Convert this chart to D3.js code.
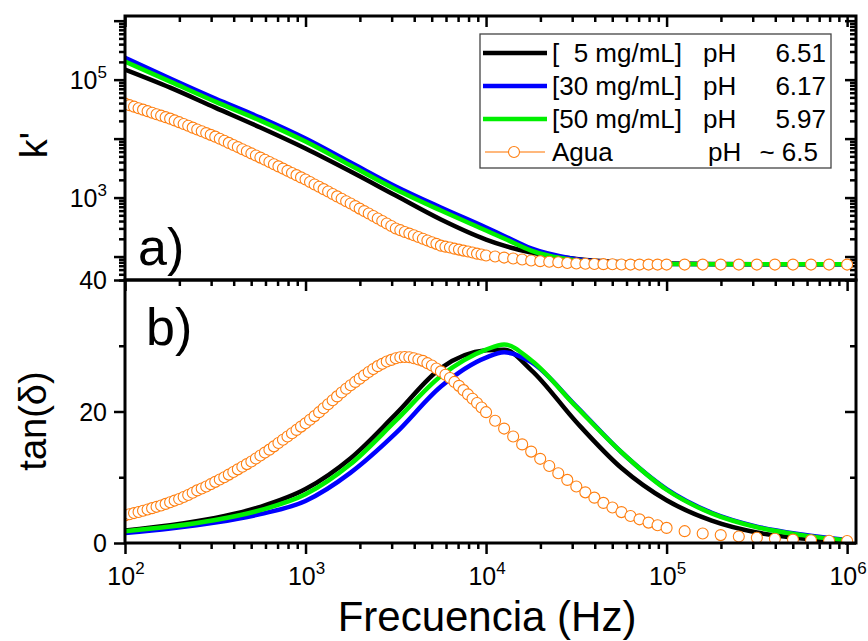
<!DOCTYPE html>
<html>
<head>
<meta charset="utf-8">
<script src="https://cdn.jsdelivr.net/npm/d3@7"></script>
<style>
  body { margin: 0; background: #fff; }
  text { font-family: "Liberation Sans", Arial, sans-serif; fill: #000; }
</style>
</head>
<body>
<div id="chart"></div>
<script>
/**
 * DATA
 * */
// frequencies (Hz) sampled for the three solution curves
const freqLines = [100, 178, 316, 562, 1000, 1778, 3162, 5623, 10000, 12589, 17783,
  31623, 56234, 100000, 177828, 316228, 562341, 1000000];

// k' (log scale, panel a)
const kBlack = [148000, 73100, 33500, 15400, 6780, 2760, 1080, 424, 194, 153, 117, 91, 80, 76, 75, 74, 74, 74];
const kBlue  = [236000, 104000, 47600, 22700, 10000, 3920, 1540, 677, 310, 223, 137, 90, 78, 75, 74, 74, 74, 74];
const kGreen = [202000, 92500, 42400, 20200, 8900, 3490, 1370, 602, 276, 202, 126, 86, 77, 75, 74, 74, 74, 74];

// tan(delta) (panel b)
const tBlack = [1.9, 2.7, 3.8, 5.5, 8.2, 12.9, 19.6, 26.6, 29.3, 29.4, 26.3, 18.4, 11.4, 6.5, 3.4, 1.6, 0.7, 0.3];
const tBlue  = [1.5, 2.2, 3.1, 4.4, 6.4, 10.7, 16.7, 23.8, 28.2, 29.0, 27.5, 20.8, 13.8, 8.2, 4.6, 2.5, 1.3, 0.45];
const tGreen = [1.8, 2.5, 3.5, 5.0, 7.4, 12.0, 18.6, 25.4, 29.4, 30.2, 27.8, 20.7, 13.8, 8.1, 4.5, 2.4, 1.2, 0.4];

// water (Agua) measured points
const freqAgua = [
  100, 105.9, 112.2, 118.9, 125.9, 133.4, 141.3, 149.6, 158.5, 167.9,
  177.8, 188.4, 199.5, 211.3, 223.9, 237.1, 251.2, 266.1, 281.8, 298.5,
  316.2, 335.0, 354.8, 375.8, 398.1, 421.7, 446.7, 473.2, 501.2, 530.9,
  562.3, 595.7, 631.0, 668.3, 707.9, 749.9, 794.3, 841.4, 891.3, 944.1,
  1000, 1059, 1122, 1189, 1259, 1334, 1413, 1496, 1585, 1679,
  1778, 1884, 1995, 2113, 2239, 2371, 2512, 2661, 2818, 2985,
  3162, 3350, 3548, 3758, 3981, 4217, 4467, 4732, 5012, 5309,
  5623, 5957, 6310, 6683, 7079, 7499, 7943, 8414, 8913, 9441,
  10000,
  11220, 12590, 14130, 15850, 17780, 19950, 22390, 25120, 28180, 31620,
  35480, 39810, 44670, 50120, 56230, 63100, 70790, 79430, 89130, 100000,
  125900, 158500, 199500, 251200, 316200, 398100, 501200, 631000, 794300, 1000000];
const kAgua = [
  39200, 36900, 34800, 32800, 31000, 29200, 27500, 25950, 24500, 23100,
  21800, 20350, 19000, 17700, 16500, 15350, 14300, 13300, 12400, 11570,
  10800, 9960, 9180, 8460, 7800, 7180, 6610, 6090, 5610, 5170,
  4760, 4370, 4010, 3680, 3380, 3100, 2840, 2610, 2400, 2200,
  2020, 1840, 1670, 1525, 1390, 1265, 1150, 1047, 953, 868,
  791, 717, 650, 590, 536, 486, 441, 400, 363, 329,
  299, 280, 261, 245, 229, 214, 200, 187, 175, 164,
  153, 147, 142, 136, 131, 126, 122, 117, 112, 108,
  104,
  100, 96, 92.5, 89, 85.5, 83.5, 81.6, 79.8, 77.8, 76,
  75.5, 74.8, 74.3, 73.8, 73.1, 73, 73, 73, 73, 73,
  73, 73, 73, 73, 73, 73, 73, 73, 73, 73];
const tAgua = [
  4.2, 4.37, 4.55, 4.72, 4.9, 5.1, 5.3, 5.5, 5.7, 5.95,
  6.2, 6.45, 6.7, 7.0, 7.3, 7.65, 8.0, 8.3, 8.6, 8.95,
  9.3, 9.65, 10.0, 10.4, 10.8, 11.2, 11.6, 12.0, 12.4, 12.85,
  13.3, 13.75, 14.2, 14.7, 15.2, 15.7, 16.2, 16.7, 17.2, 17.7,
  18.2, 18.75, 19.3, 19.9, 20.5, 21.1, 21.7, 22.3, 22.9, 23.45,
  24.0, 24.5, 25.0, 25.5, 26.0, 26.45, 26.9, 27.25, 27.6, 27.85,
  28.1, 28.25, 28.3, 28.25, 28.1, 27.9, 27.7, 27.35, 27.0, 26.55,
  26.1, 25.6, 25.1, 24.5, 23.9, 23.25, 22.6, 21.95, 21.3, 20.6,
  19.9,
  18.6, 17.4, 16.2, 15.0, 13.9, 12.8, 11.7, 10.6, 9.6, 8.6,
  7.7, 6.9, 6.1, 5.4, 4.7, 4.1, 3.6, 3.1, 2.7, 2.3,
  1.8, 1.45, 1.2, 1.0, 0.8, 0.65, 0.52, 0.42, 0.35, 0.3];

// legend rows
const legendConc = ["[  5 mg/mL]", "[30 mg/mL]", "[50 mg/mL]", "Agua"];
const legendPH = ["6.51", "6.17", "5.97", "~ 6.5"];

// tick labels
const xTickExp = [2, 3, 4, 5, 6];
const kTickExp = [3, 5];
const tTickLabels = [0, 20, 40];

/**
 * CONSTANTS AND GLOBALS
 * */
const width = 868, height = 641;
const plot = { left: 125, right: 856, top: 16, mid: 280, bottom: 543 };
const colors = { black: "#000000", blue: "#0000ff", green: "#00f000", orange: "#ff7f10" };
const font = 25;

const svg = d3.select("#chart").append("svg")
  .attr("width", width)
  .attr("height", height);

const x = d3.scaleLog().domain([100, 1.12e6]).range([plot.left, plot.right]);
const yK = d3.scaleLog().domain([40, 1.2e6]).range([plot.mid, plot.top]);
const yT = d3.scaleLinear().domain([0, 40]).range([plot.bottom, plot.mid]);

const isPow10 = v => Math.abs(Math.log10(v) - Math.round(Math.log10(v))) < 1e-9;
const xMajor = x.ticks().filter(isPow10);
const xMinor = x.ticks().filter(v => !isPow10(v));
const kMajor = yK.ticks().filter(isPow10);
const kMinor = yK.ticks().filter(v => !isPow10(v));

// clip paths for the two panels
const defs = svg.append("defs");
defs.append("clipPath").attr("id", "clipA").append("rect")
  .attr("x", plot.left).attr("y", plot.top)
  .attr("width", plot.right - plot.left).attr("height", plot.mid - plot.top);
defs.append("clipPath").attr("id", "clipB").append("rect")
  .attr("x", plot.left).attr("y", plot.mid)
  .attr("width", plot.right - plot.left).attr("height", plot.bottom - plot.mid);

/**
 * TICKS
 * */
function ticks(axisFn, scale, values, size, transform) {
  svg.append("g")
    .attr("transform", transform)
    .call(axisFn(scale).tickValues(values).tickSize(size).tickFormat(""))
    .call(g => g.select(".domain").remove())
    .call(g => g.selectAll("line").attr("stroke", "#000").attr("stroke-width", 2.5));
}

// x: bottom outward, top of each panel inward
ticks(d3.axisBottom, x, xMajor, 11, `translate(0,${plot.bottom})`);
ticks(d3.axisBottom, x, xMinor, 6, `translate(0,${plot.bottom})`);
ticks(d3.axisBottom, x, xMajor, 11, `translate(0,${plot.top})`);
ticks(d3.axisBottom, x, xMinor, 6, `translate(0,${plot.top})`);
ticks(d3.axisBottom, x, xMajor, 11, `translate(0,${plot.mid})`);
ticks(d3.axisBottom, x, xMinor, 6, `translate(0,${plot.mid})`);

// panel a: left outward, right inward
ticks(d3.axisLeft, yK, kMajor, 11, `translate(${plot.left},0)`);
ticks(d3.axisLeft, yK, kMinor, 6, `translate(${plot.left},0)`);
ticks(d3.axisLeft, yK, kMajor, 11, `translate(${plot.right},0)`);
ticks(d3.axisLeft, yK, kMinor, 6, `translate(${plot.right},0)`);

// panel b
ticks(d3.axisLeft, yT, [0, 20, 40], 11, `translate(${plot.left},0)`);
ticks(d3.axisLeft, yT, [10, 30], 6, `translate(${plot.left},0)`);
ticks(d3.axisLeft, yT, [0, 20, 40], 11, `translate(${plot.right},0)`);
ticks(d3.axisLeft, yT, [10, 30], 6, `translate(${plot.right},0)`);

/**
 * DATA MARKS
 * */
function drawLine(scaleY, values, color, clip) {
  const line = d3.line()
    .x((d, i) => x(freqLines[i]))
    .y(d => scaleY(d))
    .curve(d3.curveMonotoneX);
  svg.append("path")
    .attr("clip-path", `url(#${clip})`)
    .attr("d", line(values))
    .attr("fill", "none")
    .attr("stroke", color)
    .attr("stroke-width", 4.5)
    .attr("stroke-linejoin", "round");
}

function drawAgua(scaleY, values, clip) {
  svg.append("g")
    .attr("clip-path", `url(#${clip})`)
    .selectAll("circle")
    .data(values)
    .join("circle")
    .attr("cx", (d, i) => x(freqAgua[i]))
    .attr("cy", d => scaleY(d))
    .attr("r", 5.5)
    .attr("fill", "#fff")
    .attr("stroke", colors.orange)
    .attr("stroke-width", 1.1);
}

drawLine(yK, kBlack, colors.black, "clipA");
drawLine(yK, kBlue, colors.blue, "clipA");
drawLine(yK, kGreen, colors.green, "clipA");
drawAgua(yK, kAgua, "clipA");

drawLine(yT, tBlack, colors.black, "clipB");
drawLine(yT, tBlue, colors.blue, "clipB");
drawLine(yT, tGreen, colors.green, "clipB");
drawAgua(yT, tAgua, "clipB");

// frames
[[plot.top, plot.mid], [plot.mid, plot.bottom]].forEach(([t, b]) => {
  svg.append("rect")
    .attr("x", plot.left).attr("y", t)
    .attr("width", plot.right - plot.left).attr("height", b - t)
    .attr("fill", "none")
    .attr("stroke", "#000")
    .attr("stroke-width", 3);
});

/**
 * TICK LABELS
 * */
function powLabel(px, py, exp, anchor) {
  const t = svg.append("text")
    .attr("x", px).attr("y", py)
    .attr("text-anchor", anchor)
    .attr("font-size", font);
  t.append("tspan").text("10");
  t.append("tspan").attr("dy", -11).attr("font-size", 17).text(exp);
}

xTickExp.forEach(e => powLabel(x(Math.pow(10, e)) + 1, 585, e, "middle"));
kTickExp.forEach(e => powLabel(107, yK(Math.pow(10, e)) + 9, e, "end"));

tTickLabels.forEach(v => {
  svg.append("text")
    .attr("x", 107).attr("y", yT(v) + 9)
    .attr("text-anchor", "end")
    .attr("font-size", font)
    .text(v);
});

/**
 * TITLES
 * */
svg.append("text")
  .attr("x", 487).attr("y", 631)
  .attr("text-anchor", "middle")
  .attr("font-size", 42)
  .text("Frecuencia (Hz)");

svg.append("text")
  .attr("transform", "translate(47,145) rotate(-90)")
  .attr("text-anchor", "middle")
  .attr("font-size", 38)
  .text("k'");

svg.append("text")
  .attr("transform", "translate(46,421) rotate(-90)")
  .attr("text-anchor", "middle")
  .attr("font-size", 38)
  .text("tan(δ)");

svg.append("text").attr("x", 138).attr("y", 265).attr("font-size", 52).text("a)");
svg.append("text").attr("x", 146).attr("y", 345).attr("font-size", 52).text("b)");

/**
 * LEGEND
 * */
const legend = svg.append("g");
legend.append("rect")
  .attr("x", 480).attr("y", 34)
  .attr("width", 351).attr("height", 134)
  .attr("fill", "#fff")
  .attr("stroke", "#444")
  .attr("stroke-width", 1.3);

const legendColors = [colors.black, colors.blue, colors.green, colors.orange];
legendConc.forEach((label, i) => {
  const cy = 53 + i * 33;
  if (i < 3) {
    legend.append("line")
      .attr("x1", 483).attr("x2", 547).attr("y1", cy).attr("y2", cy)
      .attr("stroke", legendColors[i]).attr("stroke-width", 4.5);
  } else {
    legend.append("line")
      .attr("x1", 485).attr("x2", 545).attr("y1", cy).attr("y2", cy)
      .attr("stroke", "#ffa050").attr("stroke-width", 1.5);
    legend.append("circle")
      .attr("cx", 514).attr("cy", cy).attr("r", 5.5)
      .attr("fill", "#fff").attr("stroke", colors.orange).attr("stroke-width", 1.1);
  }
  legend.append("text")
    .attr("x", 552).attr("y", cy + 9)
    .attr("font-size", 26)
    .style("white-space", "pre")
    .text(label);
  legend.append("text")
    .attr("x", i < 3 ? 703 : 708).attr("y", cy + 9)
    .attr("font-size", 26)
    .text("pH");
  legend.append("text")
    .attr("x", i < 3 ? 826 : 818).attr("y", cy + 9)
    .attr("text-anchor", "end")
    .attr("font-size", 26)
    .style("white-space", "pre")
    .text(legendPH[i]);
});
</script>
</body>
</html>
